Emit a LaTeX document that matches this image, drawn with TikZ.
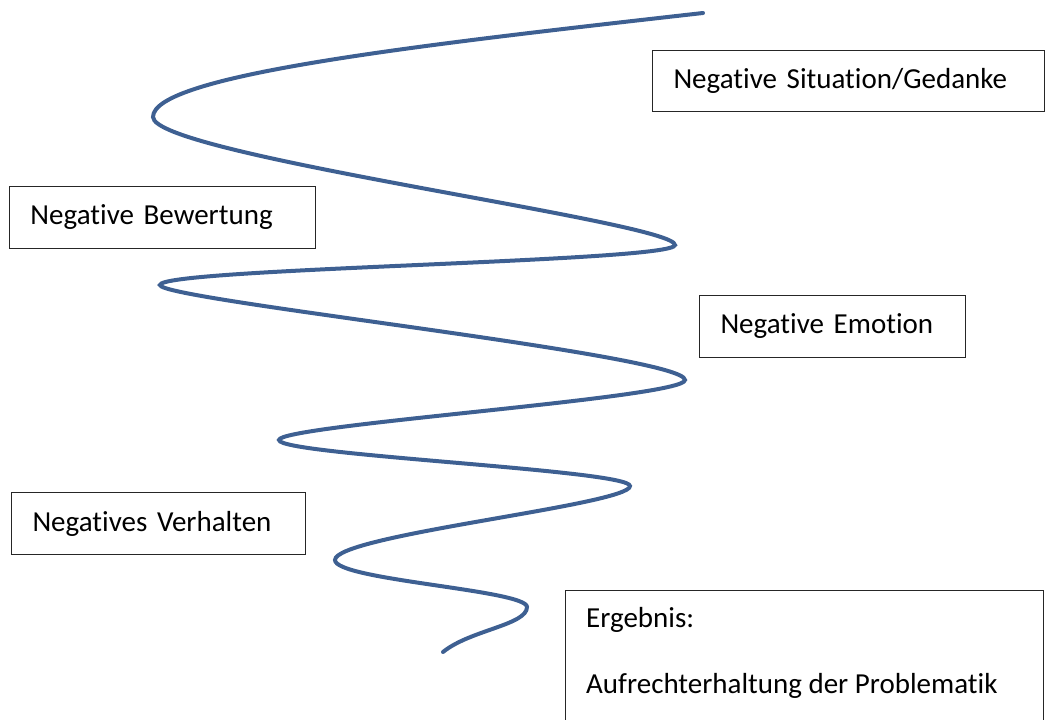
\documentclass[tikz,border=0pt]{standalone}
\usepackage{fontspec}
\setmainfont[Ligatures=NoCommon]{Carlito}
\usepackage{xcolor}
\usepackage{tikz}
\definecolor{spiralblue}{RGB}{62,96,146}

\begin{document}
\begin{tikzpicture}[x=1pt,y=-1pt,
  label box/.style={draw=black!85,line width=1pt,anchor=north west,inner xsep=21pt,
    inner ysep=0pt,align=left,font=\fontsize{29}{35}\selectfont},
  label text/.style={anchor=base west,inner sep=0pt,font=\fontsize{29}{35}\selectfont},
  spiral/.style={spiralblue,line width=4pt,line cap=round}]
% Frame
\clip (0,0) rectangle (1045,720);

% Spiral
\draw[spiral] (703,13)
  .. controls (420,45) and (153,75) .. (153,117)
  .. controls (153,155) and (675,222) .. (675,245)
  .. controls (675,262) and (160,268) .. (160,285)
  .. controls (160,300) and (685,355) .. (685,380)
  .. controls (685,398) and (279,425) .. (279,440)
  .. controls (279,455) and (630,470) .. (630,486)
  .. controls (630,505) and (335,535) .. (335,560)
  .. controls (335,580) and (527,590) .. (527,607)
  .. controls (527,625) and (470,630) .. (443,652);

% Boxes
\node[label box,text width=350pt,minimum height=61pt] (situation) at (652,50) {Negative Situation/Gedanke};
\node[label box,text width=264pt,minimum height=62pt] (bewertung) at (9,186) {Negative Bewertung};
\node[label box,text width=224pt,minimum height=62pt] (emotion) at (699,295) {Negative Emotion};
\node[label box,text width=252pt,minimum height=62pt] (verhalten) at (11,492) {Negatives Verhalten};
\node[label box,text width=436pt,minimum height=180pt] (ergebnis) at (565,590) {};
\node[label text] (ergebnis title) at (586,627) {Ergebnis:};
\node[label text] (ergebnis body) at (586,693) {Aufrechterhaltung der Problematik};
\end{tikzpicture}
\end{document}
